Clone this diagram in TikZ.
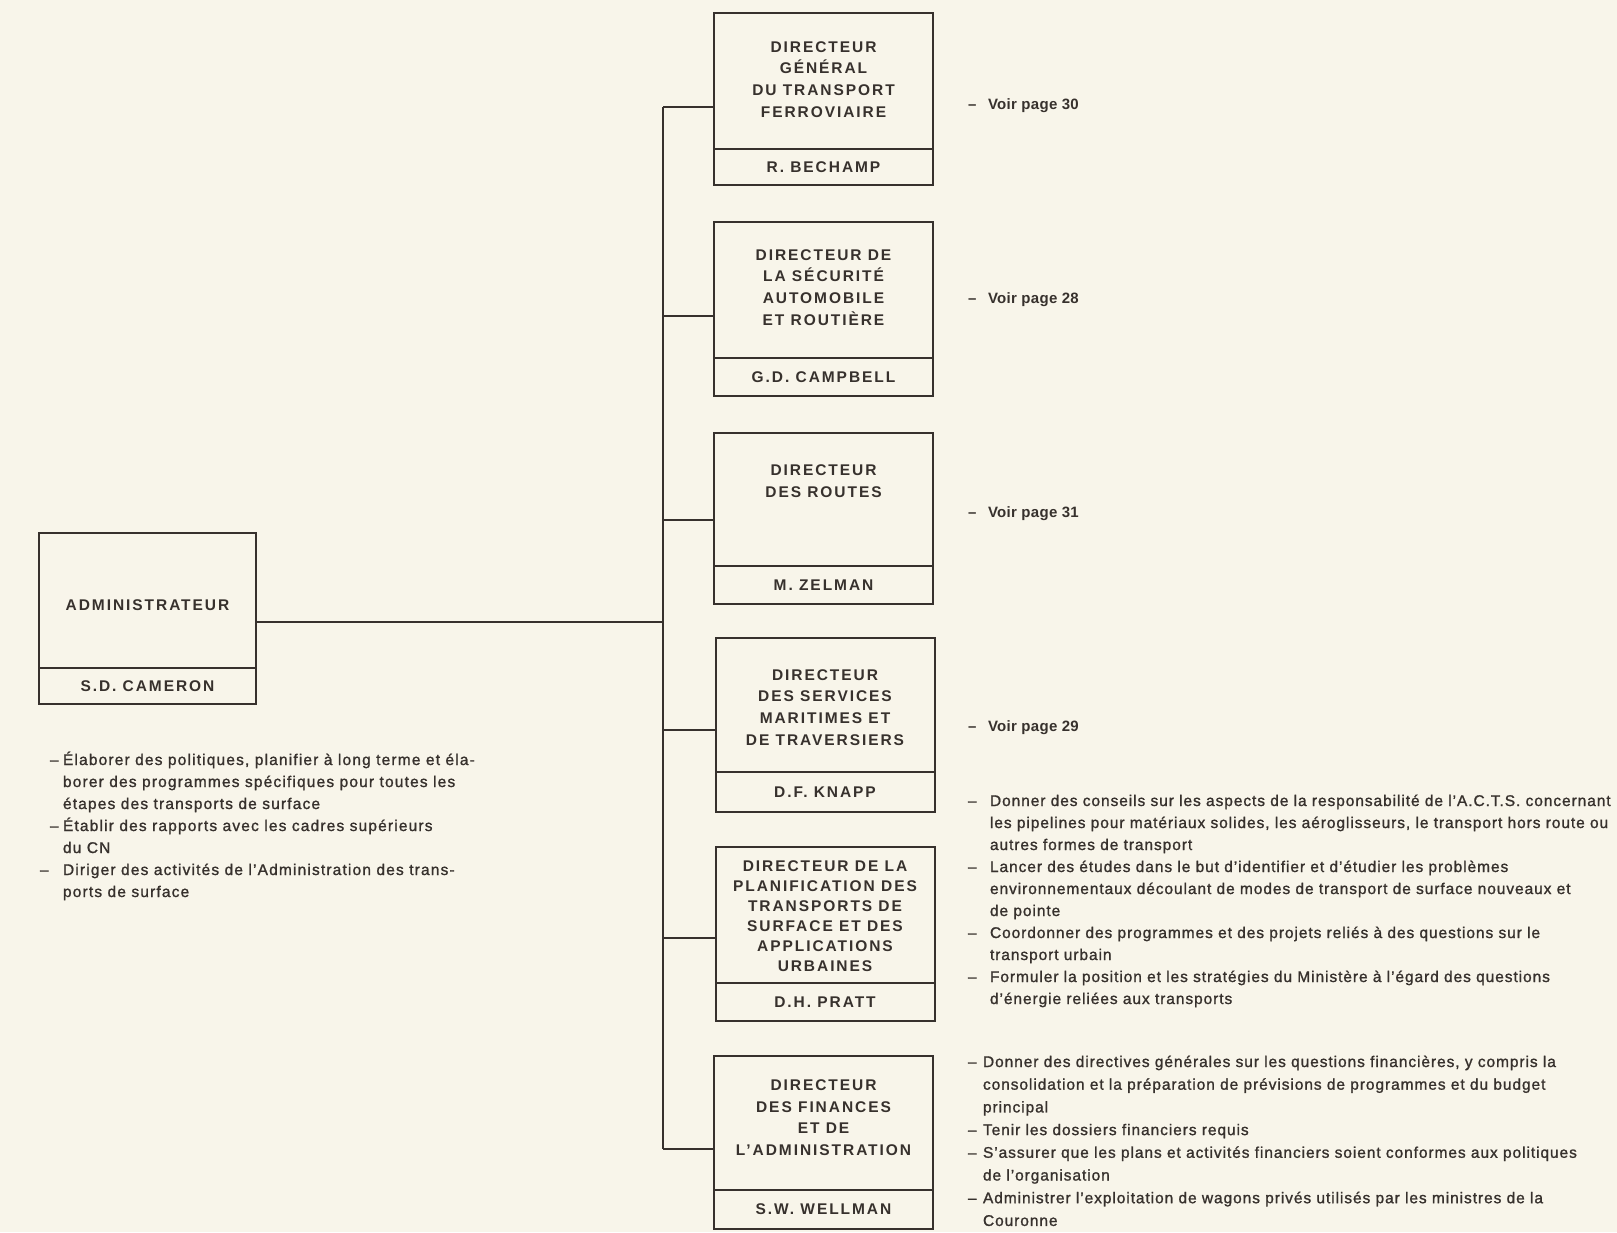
\documentclass[tikz,border=0pt]{standalone}
\usepackage{fontspec}
\setmainfont{Liberation Sans}
\newfontfamily\boxfont[LetterSpace=12.5]{Liberation Sans}
\newfontfamily\leftfont[LetterSpace=7.5,FakeBold=1.2]{Liberation Sans}
\newfontfamily\rightfont[LetterSpace=6,FakeBold=1.2]{Liberation Sans}
\newfontfamily\voirfont[LetterSpace=2]{Liberation Sans}
\definecolor{paper}{RGB}{248,245,234}
\definecolor{ink}{RGB}{55,49,45}
\begin{document}
\begin{tikzpicture}[x=1pt,y=-1pt,
  every node/.style={inner sep=0pt, outer sep=0pt, text=ink},
  titlebox/.style={draw=ink, line width=2pt, minimum width=219pt, rectangle},
  namebox/.style={draw=ink, line width=2pt, minimum width=219pt, anchor=north, rectangle, font=\boxfont\bfseries\fontsize{15.5}{15.5}\selectfont},
  boxtext/.style={align=center, font=\boxfont\bfseries\fontsize{15.5}{21.7}\selectfont},
  link/.style={draw=ink, line width=2pt},
  ltext/.style={anchor=base west, font=\leftfont\fontsize{15.5}{18}\selectfont},
  rtext/.style={anchor=base west, font=\rightfont\fontsize{15.5}{18}\selectfont},
  voir/.style={anchor=base west, font=\voirfont\bfseries\fontsize{15}{18}\selectfont},
]
\fill[paper] (0,0) rectangle (1617,1232);
\useasboundingbox (0,0) rectangle (1617,1232);

% Administrateur
\node[titlebox, minimum width=217pt, minimum height=135pt] (adm) at (147.5,600.5) {};
\node[boxtext] (admt) at (147.5,605) {ADMINISTRATEUR};
\node[namebox, minimum width=217pt, minimum height=36pt] (admn) at (adm.south) {S.D. CAMERON};

% Directors
\node[titlebox, minimum height=136pt] (b1) at (823.5,81) {};
\node[boxtext] (b1t) at (823.5,79.5) {DIRECTEUR\\GÉNÉRAL\\DU TRANSPORT\\FERROVIAIRE};
\node[namebox, minimum height=36pt] (b1n) at (b1.south) {R. BECHAMP};

\node[titlebox, minimum height=136pt] (b2) at (823.5,290) {};
\node[boxtext] (b2t) at (823.5,287.5) {DIRECTEUR DE\\LA SÉCURITÉ\\AUTOMOBILE\\ET ROUTIÈRE};
\node[namebox, minimum height=38pt] (b2n) at (b2.south) {G.D. CAMPBELL};

\node[titlebox, minimum height=133pt] (b3) at (823.5,499.5) {};
\node[boxtext] (b3t) at (823.5,481) {DIRECTEUR\\DES ROUTES};
\node[namebox, minimum height=38pt] (b3n) at (b3.south) {M. ZELMAN};

\node[titlebox, minimum height=134pt] (b4) at (825,705) {};
\node[boxtext] (b4t) at (825,707.5) {DIRECTEUR\\DES SERVICES\\MARITIMES ET\\DE TRAVERSIERS};
\node[namebox, minimum height=40pt] (b4n) at (b4.south) {D.F. KNAPP};

\node[titlebox, minimum height=136pt] (b5) at (825,915) {};
\node[boxtext, font=\boxfont\bfseries\fontsize{15.5}{20}\selectfont] (b5t) at (825,916.5) {DIRECTEUR DE LA\\PLANIFICATION DES\\TRANSPORTS DE\\SURFACE ET DES\\APPLICATIONS\\URBAINES};
\node[namebox, minimum height=38pt] (b5n) at (b5.south) {D.H. PRATT};

\node[titlebox, minimum height=134pt] (b6) at (823.5,1123) {};
\node[boxtext] (b6t) at (823.5,1117.5) {DIRECTEUR\\DES FINANCES\\ET DE\\L’ADMINISTRATION};
\node[namebox, minimum height=39pt] (b6n) at (b6.south) {S.W. WELLMAN};

% connectors
\coordinate (j1) at (663,107);
\coordinate (j2) at (663,316);
\coordinate (j3) at (663,520);
\coordinate (j4) at (663,730);
\coordinate (j5) at (663,938);
\coordinate (j6) at (663,1149);
\coordinate (ja) at (663,622);
\draw[link] (j1) -- (j6);
\draw[link] (j1) -- (j1 -| b1.west);
\draw[link] (j2) -- (j2 -| b2.west);
\draw[link] (j3) -- (j3 -| b3.west);
\draw[link] (j4) -- (j4 -| b4.west);
\draw[link] (j5) -- (j5 -| b5.west);
\draw[link] (j6) -- (j6 -| b6.west);
\draw[link] (ja -| adm.east) -- (ja);

% Voir page
\node[voir] (v1d) at (968,109) {–};
\node[voir] (v1) at (988,109) {Voir page 30};
\node[voir] (v2d) at (968,303) {–};
\node[voir] (v2) at (988,303) {Voir page 28};
\node[voir] (v3d) at (968,517) {–};
\node[voir] (v3) at (988,517) {Voir page 31};
\node[voir] (v4d) at (968,731) {–};
\node[voir] (v4) at (988,731) {Voir page 29};

% left text
\node[ltext] (l1d) at (50,765) {–};
\node[ltext] (l1) at (63,765) {Élaborer des politiques, planifier à long terme et éla-};
\node[ltext] (l2) at (63,787) {borer des programmes spécifiques pour toutes les};
\node[ltext] (l3) at (63,809) {étapes des transports de surface};
\node[ltext] (l4d) at (50,831) {–};
\node[ltext] (l4) at (63,831) {Établir des rapports avec les cadres supérieurs};
\node[ltext] (l5) at (63,853) {du CN};
\node[ltext] (l6d) at (40,875) {–};
\node[ltext] (l6) at (63,875) {Diriger des activités de l’Administration des trans-};
\node[ltext] (l7) at (63,897) {ports de surface};

% right text group 1
\node[rtext] (r1d) at (968,806) {–};
\node[rtext] (r1) at (990,806) {Donner des conseils sur les aspects de la responsabilité de l’A.C.T.S. concernant};
\node[rtext] (r2) at (990,828) {les pipelines pour matériaux solides, les aéroglisseurs, le transport hors route ou};
\node[rtext] (r3) at (990,850) {autres formes de transport};
\node[rtext] (r4d) at (968,872) {–};
\node[rtext] (r4) at (990,872) {Lancer des études dans le but d’identifier et d’étudier les problèmes};
\node[rtext] (r5) at (990,894) {environnementaux découlant de modes de transport de surface nouveaux et};
\node[rtext] (r6) at (990,916) {de pointe};
\node[rtext] (r7d) at (968,938) {–};
\node[rtext] (r7) at (990,938) {Coordonner des programmes et des projets reliés à des questions sur le};
\node[rtext] (r8) at (990,960) {transport urbain};
\node[rtext] (r9d) at (968,982) {–};
\node[rtext] (r9) at (990,982) {Formuler la position et les stratégies du Ministère à l’égard des questions};
\node[rtext] (r10) at (990,1004) {d’énergie reliées aux transports};

% right text group 2
\node[rtext] (s1d) at (968,1067) {–};
\node[rtext] (s1) at (983,1067) {Donner des directives générales sur les questions financières, y compris la};
\node[rtext] (s2) at (983,1089.7) {consolidation et la préparation de prévisions de programmes et du budget};
\node[rtext] (s3) at (983,1112.4) {principal};
\node[rtext] (s4d) at (968,1135.1) {–};
\node[rtext] (s4) at (983,1135.1) {Tenir les dossiers financiers requis};
\node[rtext] (s5d) at (968,1157.8) {–};
\node[rtext] (s5) at (983,1157.8) {S’assurer que les plans et activités financiers soient conformes aux politiques};
\node[rtext] (s6) at (983,1180.5) {de l’organisation};
\node[rtext] (s7d) at (968,1203.2) {–};
\node[rtext] (s7) at (983,1203.2) {Administrer l’exploitation de wagons privés utilisés par les ministres de la};
\node[rtext] (s8) at (983,1225.9) {Couronne};
\end{tikzpicture}
\end{document}
